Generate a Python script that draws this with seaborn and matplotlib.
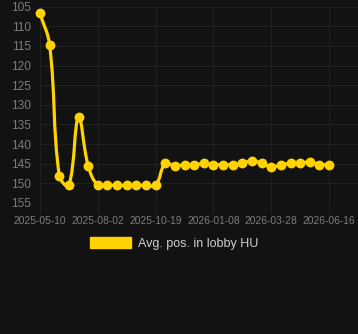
import numpy as np
import pandas as pd
import matplotlib
matplotlib.use("Agg")
import matplotlib.pyplot as plt
from matplotlib.path import Path
from matplotlib.patches import PathPatch, Patch
import seaborn as sns

# ---- data ----
tick_labels = ["2025-05-10", "2025-08-02", "2025-10-19", "2026-01-08", "2026-03-28", "2026-06-16"]
tick_index = [0, 6, 12, 18, 24, 30]
avg_pos = [106.7, 114.8, 148.0, 150.5, 133.2, 145.5,
           150.5, 150.5, 150.5, 150.5, 150.5, 150.5, 150.5,
           144.9, 145.6, 145.2, 145.3, 144.9, 145.2, 145.2,
           145.2, 144.9, 144.2, 144.9, 145.8, 145.3, 144.9,
           144.9, 144.5, 145.2, 145.2]
series_name = "Avg. pos. in lobby HU"
y_ticks = [105, 110, 115, 120, 125, 130, 135, 140, 145, 150, 155]

# ---- style ----
BG = "#121212"
GRID = "#202020"
LINE = "#FFD200"
TICK_COL = "#7c7c7c"
LEG_COL = "#cfcfcf"

sns.set_theme(style="dark")
plt.rcParams["font.family"] = ["Liberation Sans", "DejaVu Sans"]

W, H = 358, 334
fig = plt.figure(figsize=(W / 100, H / 100), dpi=100, facecolor=BG)
left_px, right_px, top_px, bottom_px = 40, 358, 6.7, 203
ax = fig.add_axes([left_px / W, 1 - bottom_px / H, (right_px - left_px) / W, (bottom_px - top_px) / H])
ax.set_facecolor(BG)

df = pd.DataFrame({"idx": np.arange(len(avg_pos)), "pos": avg_pos})

ax.set_xlim(0, 33)
ax.set_ylim(155, 105)

# smooth line (Chart.js-like tension spline) through the data points
pts = ax.transData.transform(np.column_stack([df["idx"], df["pos"]]))
t = 0.4
n = len(pts)
cp_prev = np.zeros_like(pts)
cp_next = np.zeros_like(pts)
for i in range(n):
    prev = pts[i - 1] if i > 0 else pts[i]
    cur = pts[i]
    nxt = pts[i + 1] if i < n - 1 else pts[i]
    d01 = np.hypot(*(cur - prev))
    d12 = np.hypot(*(nxt - cur))
    tot = d01 + d12
    s01 = d01 / tot if tot else 0
    s12 = d12 / tot if tot else 0
    cp_prev[i] = cur - t * s01 * (nxt - prev)
    cp_next[i] = cur + t * s12 * (nxt - prev)
bb = ax.get_window_extent()
for arr in (cp_prev, cp_next):
    arr[:, 1] = np.clip(arr[:, 1], bb.y0, bb.y1)
inv = ax.transData.inverted()
cp_prev_d = inv.transform(cp_prev)
cp_next_d = inv.transform(cp_next)
pts_d = df[["idx", "pos"]].to_numpy(dtype=float)
verts = [pts_d[0]]
codes = [Path.MOVETO]
for i in range(n - 1):
    verts += [cp_next_d[i], cp_prev_d[i + 1], pts_d[i + 1]]
    codes += [Path.CURVE4] * 3
ax.add_patch(PathPatch(Path(verts, codes), facecolor="none", edgecolor=LINE,
                       lw=2.3, zorder=3, clip_on=False, capstyle="round", joinstyle="round"))

sns.scatterplot(data=df, x="idx", y="pos", ax=ax, color=LINE, s=50,
                edgecolor=LINE, linewidth=0, zorder=4, clip_on=False, legend=False)

ax.set_xlim(0, 33)
ax.set_ylim(155, 105)
ax.set_xticks(tick_index)
ax.set_xticklabels(tick_labels)
ax.set_yticks(y_ticks)
ax.set_yticklabels([str(v) for v in y_ticks])
ax.set_xlabel("")
ax.set_ylabel("")
ax.grid(True, color=GRID, lw=0.8)
ax.set_axisbelow(True)
for s in ax.spines.values():
    s.set_visible(False)
ax.tick_params(axis="x", colors=GRID, labelcolor=TICK_COL, labelsize=7.4, length=7, width=0.8, pad=2, bottom=True)
ax.tick_params(axis="y", labelcolor=TICK_COL, labelsize=8.6, length=0, pad=6.5, left=False)

handle = Patch(facecolor=LINE, edgecolor=LINE)
fig.legend([handle], [series_name], loc="center", bbox_to_anchor=(174 / W, 1 - 243.5 / H),
           frameon=False, fontsize=9, labelcolor=LEG_COL,
           handlelength=3.3, handleheight=0.9, handletextpad=0.5)

fig.savefig("out.png", dpi=100, facecolor=BG)
